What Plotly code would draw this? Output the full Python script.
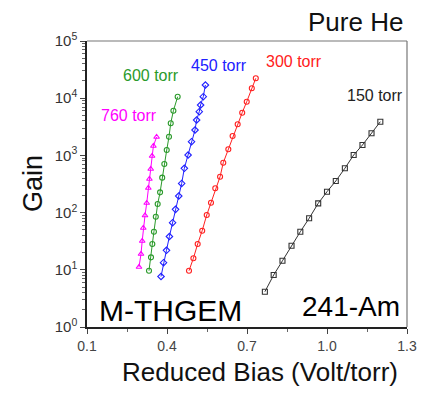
import plotly.graph_objects as go

# ---- data ----
x_760 = [0.295, 0.3025, 0.307, 0.311, 0.3175, 0.324, 0.330, 0.334, 0.339, 0.344, 0.349, 0.361]
g_760 = [11.2, 18.9, 31.9, 53.8, 89, 147, 269, 387, 578, 977, 1460, 2098]

x_600 = [0.3325, 0.340, 0.345, 0.351, 0.358, 0.365, 0.374, 0.382, 0.390, 0.399, 0.4075, 0.414, 0.424, 0.440]
g_600 = [9.65, 16.5, 28.3, 46.4, 84.8, 141, 226, 408, 707, 1243, 2124, 3640, 6044, 10620]

x_450 = [0.3775, 0.387, 0.398, 0.409, 0.421, 0.432, 0.444, 0.455, 0.465, 0.479, 0.492, 0.505, 0.511, 0.521, 0.526, 0.536, 0.544]
g_450 = [7.64, 13.3, 21.9, 38.2, 66.6, 114, 195, 323, 595, 1016, 1737, 2780, 4158, 5808, 7603, 10620, 17020]

x_300 = [0.4825, 0.499, 0.515, 0.532, 0.549, 0.565, 0.581, 0.599, 0.611, 0.630, 0.646, 0.665, 0.682, 0.699, 0.718, 0.733]
g_300 = [9.65, 15.9, 28.3, 48.3, 90.8, 149, 266, 424, 745, 1278, 2183, 3497, 5580, 8690, 14900, 22300]

x_150 = [0.767, 0.800, 0.833, 0.867, 0.900, 0.933, 0.967, 1.000, 1.033, 1.067, 1.100, 1.133, 1.167, 1.200]
g_150 = [4.14, 8.1, 14.4, 26.4, 46.4, 79.5, 145, 232, 357, 595, 1016, 1520, 2434, 3884]

x_ticks = [0.1, 0.4, 0.7, 1.0, 1.3]
x_tick_text = ["0.1", "0.4", "0.7", "1.0", "1.3"]
x_minor = [0.25, 0.55, 0.85, 1.15]
y_ticks = [1, 10, 100, 1000, 10000, 100000]
y_tick_text = ["10<sup>0</sup>", "10<sup>1</sup>", "10<sup>2</sup>", "10<sup>3</sup>", "10<sup>4</sup>", "10<sup>5</sup>"]
y_minor = [m * 10 ** e for e in range(0, 5) for m in range(2, 10)]

series = [
    ("760 torr", x_760, g_760, "#ff00ff", "triangle-up-open"),
    ("600 torr", x_600, g_600, "#2a9a2a", "circle-open"),
    ("450 torr", x_450, g_450, "#2020ff", "diamond-open"),
    ("300 torr", x_300, g_300, "#ff2020", "circle-open"),
    ("150 torr", x_150, g_150, "#333333", "square-open"),
]

FONT = "Liberation Sans, Arial, sans-serif"

fig = go.Figure()
for name, xs, ys, col, sym in series:
    fig.add_trace(go.Scatter(
        x=xs, y=ys, mode="lines+markers", name=name,
        line=dict(color=col, width=1),
        marker=dict(symbol=sym, size=5, color=col, line=dict(color=col, width=1.1)),
    ))

fig.update_layout(
    width=435, height=397,
    margin=dict(l=87, r=28, t=41, b=70),
    paper_bgcolor="white", plot_bgcolor="white",
    showlegend=False,
    font=dict(family=FONT, color="#333333"),
)
fig.update_xaxes(
    range=[0.1, 1.3], showgrid=False, zeroline=False,
    showline=True, linecolor="#222222", linewidth=1.5,
    tickvals=x_ticks, ticktext=x_tick_text,
    ticks="outside", ticklen=5, tickcolor="#444444", tickwidth=1,
    tickfont=dict(size=14, color="#444444", family=FONT),
    minor=dict(tickvals=x_minor, ticks="outside", ticklen=3, tickcolor="#666666"),
)
fig.update_yaxes(
    type="log", range=[0, 5], showgrid=False, zeroline=False,
    showline=True, linecolor="#222222", linewidth=1.5,
    tickvals=y_ticks, ticktext=y_tick_text,
    ticks="outside", ticklen=5, tickcolor="#444444", tickwidth=1,
    tickfont=dict(size=15, color="#333333", family=FONT),
    minor=dict(tickvals=y_minor, ticks="outside", ticklen=3, tickcolor="#666666"),
)

# top and right frame lines (gray)
fig.add_shape(type="line", xref="paper", yref="paper", x0=0, x1=1, y0=1, y1=1,
              line=dict(color="#777777", width=1.2))
fig.add_shape(type="line", xref="paper", yref="paper", x0=1, x1=1, y0=0, y1=1,
              line=dict(color="#777777", width=1.2))

labels = [
    ("760 torr", 0.0375, 0.741, "#ff00ff"),
    ("600 torr", 0.105, 0.878, "#2a9a2a"),
    ("450 torr", 0.319, 0.916, "#2020ff"),
    ("300 torr", 0.553, 0.930, "#ff2020"),
    ("150 torr", 0.806, 0.811, "#222222"),
]
for txt, xp, yp, col in labels:
    fig.add_annotation(text=txt, x=xp, y=yp, xref="paper", yref="paper",
                       xanchor="left", yanchor="middle", showarrow=False,
                       font=dict(size=16, color=col, family=FONT))

fig.add_annotation(text="Pure He", x=0.994, y=1.066, xref="paper", yref="paper",
                   xanchor="right", yanchor="middle", showarrow=False,
                   font=dict(size=26, color="#111111", family=FONT))
fig.add_annotation(text="M-THGEM", x=0.031, y=0.059, xref="paper", yref="paper",
                   xanchor="left", yanchor="middle", showarrow=False,
                   font=dict(size=30, color="#000000", family=FONT))
fig.add_annotation(text="241-Am", x=0.984, y=0.073, xref="paper", yref="paper",
                   xanchor="right", yanchor="middle", showarrow=False,
                   font=dict(size=28, color="#000000", family=FONT))
fig.add_annotation(text="Gain", x=-0.169, y=0.503, xref="paper", yref="paper",
                   xanchor="center", yanchor="middle", showarrow=False, textangle=-90,
                   font=dict(size=27, color="#111111", family=FONT))
fig.add_annotation(text="Reduced Bias (Volt/torr)", x=0.541, y=-0.157, xref="paper", yref="paper",
                   xanchor="center", yanchor="middle", showarrow=False,
                   font=dict(size=26, color="#111111", family=FONT))

fig.write_html("out.html")
